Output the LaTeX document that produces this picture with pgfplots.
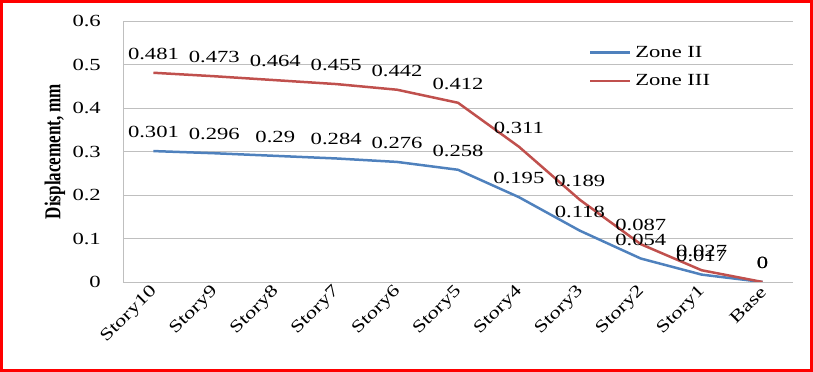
\documentclass[border=0pt]{standalone}
\usepackage{fontspec}
\setmainfont[FakeStretch=1.33]{Liberation Serif}
\newfontfamily\ylabfont[FakeStretch=0.75]{Liberation Serif}
\usepackage{pgfplots}
\pgfplotsset{compat=1.18}
\definecolor{zblue}{HTML}{4F81BD}
\definecolor{zred}{HTML}{C0504D}
\definecolor{gridc}{HTML}{BFBFBF}
\pgfplotstableread{
x y lab
0 0.301 0.301
1 0.296 0.296
2 0.290 0.29
3 0.284 0.284
4 0.276 0.276
5 0.258 0.258
6 0.195 0.195
7 0.118 0.118
8 0.054 0.054
9 0.017 0.017
10 0 0
}\zonetwo
\pgfplotstableread{
x y lab
0 0.481 0.481
1 0.473 0.473
2 0.464 0.464
3 0.455 0.455
4 0.442 0.442
5 0.412 0.412
6 0.311 0.311
7 0.189 0.189
8 0.087 0.087
9 0.027 0.027
10 0 0
}\zonethree
\begin{document}
\begin{tikzpicture}
\useasboundingbox (0,0) rectangle (813bp,372bp);
\begin{axis}[
  at={(123bp,90bp)}, anchor=south west,
  scale only axis, width=670bp, height=261bp,
  xmin=-0.5, xmax=10.5, ymin=0, ymax=0.6,
  xtick={0,1,2,3,4,5,6,7,8,9,10},
  xticklabels={Story10,Story9,Story8,Story7,Story6,Story5,Story4,Story3,Story2,Story1,Base},
  ytick={0,0.1,0.2,0.3,0.4,0.5,0.6},
  yticklabels={0,0.1,0.2,0.3,0.4,0.5,0.6},
  ymajorgrids, major grid style={gridc, line width=0.8bp},
  axis x line*=bottom, axis y line*=left,
  axis line style={gridc, line width=0.8bp, -},
  major tick length=0pt,
  tick label style={font=\fontsize{17bp}{20bp}\selectfont, text=black},
  yticklabel style={anchor=east, inner sep=0pt, xshift=-22bp},
  xticklabel style={xshift=1bp, yshift=-7bp, rotate=45, anchor=east, inner sep=0pt},
  ylabel={\ylabfont\bfseries Displacement, mm},
  ylabel style={at={(axis description cs:-0.1015,0.5)}, anchor=center, font=\fontsize{22.7bp}{24bp}\selectfont},
  every node near coord/.append style={font=\fontsize{17bp}{20bp}\selectfont, text=black, anchor=center, yshift=19bp, inner sep=0pt},
  legend style={at={(0.695,0.912)}, anchor=north west, draw=none, fill=none,
    font=\fontsize{17bp}{20bp}\selectfont, row sep=12bp, inner sep=0pt,
    nodes={inner xsep=4bp}},
  legend cell align=left,
  legend image code/.code={\draw[#1, line width=2.5bp] (0,0) -- (40bp,0);},
]
\addplot[zblue, line width=2.5bp, nodes near coords, point meta=explicit symbolic] table[x=x, y=y, meta=lab] {\zonetwo};
\addlegendentry{Zone II}
\addplot[zred, line width=2.5bp, nodes near coords, point meta=explicit symbolic] table[x=x, y=y, meta=lab] {\zonethree};
\addlegendentry{Zone III}
\end{axis}
\draw[red, line width=3bp] (1.5bp,1.5bp) rectangle (811.5bp,370.5bp);
\end{tikzpicture}
\end{document}
